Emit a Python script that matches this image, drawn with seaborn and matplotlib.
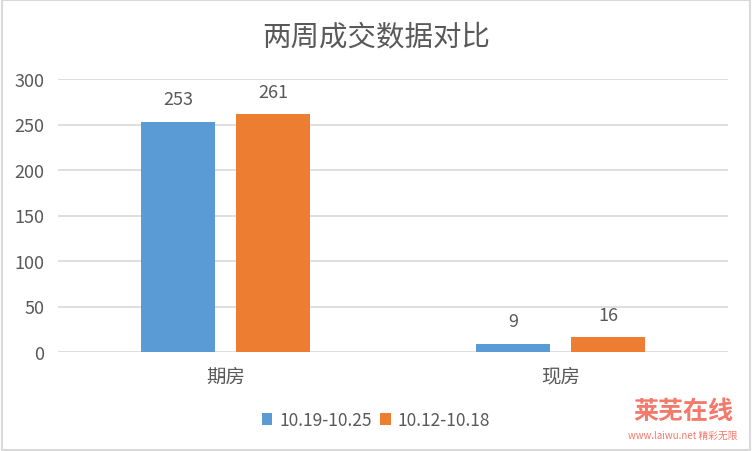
import matplotlib.pyplot as plt
import pandas as pd
import seaborn as sns

categories = ['期房', '现房']
weeks = ['10.19-10.25', '10.12-10.18']
week_a = [253, 9]
week_b = [261, 16]
colors = ['#5B9BD5', '#ED7D31']
y_ticks = [0, 50, 100, 150, 200, 250, 300]

sns.set_theme(style='white')
plt.rcParams['font.family'] = ['Noto Sans CJK SC', 'DejaVu Sans']

df = pd.DataFrame({
    '类型': categories * 2,
    '周期': [weeks[0]] * 2 + [weeks[1]] * 2,
    '成交': week_a + week_b,
})

fig = plt.figure(figsize=(7.52, 4.52), dpi=100)
ax = fig.add_axes([58 / 752, 1 - 353 / 452, 670 / 752, 273 / 452])

sns.barplot(
    data=df, x='类型', y='成交', hue='周期', palette=colors,
    width=0.567, gap=0.22, ax=ax, legend=True, saturation=1, linewidth=0,
)

txt = '#595959'
ax.set_ylim(0, 300)
ax.set_xlim(-0.5, 1.5)
ax.set_yticks(y_ticks)
ax.yaxis.grid(True, color='#D9D9D9', lw=1.2)
ax.set_axisbelow(True)
for s in ax.spines.values():
    s.set_visible(False)
ax.tick_params(axis='both', length=0, colors=txt)
ax.tick_params(axis='y', labelsize=13, pad=10)
ax.tick_params(axis='x', labelsize=14, pad=10)
ax.set_xlabel('')
ax.set_ylabel('')

for cont in ax.containers:
    ax.bar_label(cont, padding=10, fontsize=13, color=txt)

handles, labels = ax.get_legend_handles_labels()
ax.legend_.remove()
fig.legend(
    handles, labels, loc='center', bbox_to_anchor=(0.5, 1 - 421 / 452),
    ncol=2, frameon=False, fontsize=12.5, labelcolor=txt,
    handlelength=0.6, handleheight=0.75, handletextpad=0.4, columnspacing=0.5,
)

fig.text(0.5, 1 - 37 / 452, '两周成交数据对比', ha='center', va='center',
         fontsize=20.5, color=txt)

# watermark in the corner
fig.text(683 / 752, 1 - 412 / 452, '莱芜在线', ha='center', va='center',
         fontsize=18, fontweight='bold', style='italic', color='#F26B5B',
         alpha=0.9)
fig.text(683 / 752, 1 - 436 / 452, 'www.laiwu.net 精彩无限', ha='center',
         va='center', fontsize=7, style='italic', color='#F26B5B', alpha=0.9)

fig.patches.append(plt.Rectangle((0.002, 0.003), 0.996, 0.994, fill=False,
                                 ec='#D9D9D9', lw=1.5,
                                 transform=fig.transFigure, figure=fig))

fig.savefig('out.png', dpi=100, facecolor='white')
